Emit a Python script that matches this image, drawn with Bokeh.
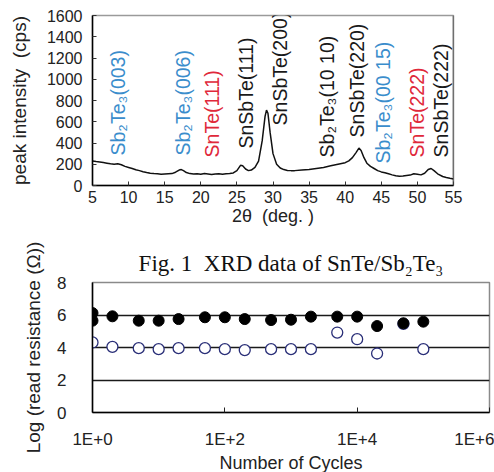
import math
from bokeh.plotting import figure
from bokeh.layouts import column
from bokeh.models import ColumnDataSource, FixedTicker, Span, Title
from bokeh.core.properties import value
from bokeh.embed import file_html
from bokeh.resources import INLINE

# ---------------- XRD data ----------------
two_theta = [5.0, 5.5, 6.0, 6.5, 7.0, 7.5, 8.0, 8.5, 9.0, 9.5, 10.0, 10.5, 11.0, 11.5,
             12.0, 12.5, 13.0, 13.5, 14.0, 14.5, 15.0, 15.5, 16.0, 16.5, 17.0, 17.3,
             17.6, 18.0, 18.5, 19.0, 19.5, 20.0, 20.5, 21.0, 21.5, 22.0, 22.5, 23.0,
             23.5, 24.0, 24.5, 25.0, 25.5, 25.8, 26.2, 26.6, 27.0, 27.5, 28.0, 28.5,
             28.9, 29.1, 29.3, 29.6, 30.0, 30.5, 31.0, 31.5, 32.0, 32.5, 33.0, 34.0,
             35.0, 36.0, 37.0, 38.0, 39.0, 40.0, 40.5, 41.0, 41.5, 41.9, 42.2, 42.6,
             43.0, 43.5, 44.0, 44.5, 45.0, 45.5, 46.0, 46.5, 47.0, 47.5, 48.0, 48.5,
             49.0, 49.5, 50.0, 50.5, 51.0, 51.5, 51.9, 52.3, 52.8, 53.5, 54.0, 54.5, 55.0]
intensity = [230, 225, 222, 216, 210, 204, 200, 205, 195, 180, 170, 160, 148, 140,
             130, 122, 115, 112, 110, 106, 108, 110, 112, 125, 145, 150,
             140, 122, 112, 108, 110, 106, 112, 108, 104, 108, 110, 106,
             110, 112, 118, 140, 190, 185, 155, 140, 145, 170, 230, 420,
             650, 710, 680, 500, 300, 200, 165, 150, 142, 140, 140, 145,
             150, 160, 170, 185, 200, 215, 232, 262, 310, 352, 330, 262,
             210, 180, 160, 140, 128, 120, 110, 100, 92, 88, 90, 95,
             98, 110, 106, 100, 115, 150, 160, 140, 110, 85, 75, 68, 62]

peak_labels = ["Sb\u2082Te\u2083(003)", "Sb\u2082Te\u2083(006)", "SnTe(111)", "SnSbTe(111)",
               "SnSbTe(200)", "Sb\u2082Te\u2083(10\u00a010)", "SnSbTe(220)",
               "Sb\u2082Te\u2083(00\u00a015)", "SnTe(222)", "SnSbTe(222)"]
peak_2theta = [8.6, 17.5, 21.6, 26.2, 31.0, 37.5, 41.7, 45.2, 50.0, 53.2]
peak_label_base = [282, 282, 264, 348, 565, 264, 452, 207, 264, 264]
peak_phase = ["Sb2Te3", "Sb2Te3", "SnTe", "SnSbTe", "SnSbTe", "SnSbTe", "SnSbTe",
              "Sb2Te3", "SnTe", "SnSbTe"]

# ---------------- Endurance data ----------------
cycles = [1, 2, 5, 10, 20, 50, 100, 200, 500, 1000, 2000, 5000, 10000, 20000, 50000, 100000]
log_r_high = [6.12, 5.92, 5.65, 5.65, 5.75, 5.86, 5.86, 5.75, 5.69, 5.71, 5.90, 5.90, 5.90,
              5.32, 5.49, 5.59]
log_r_low = [4.31, 4.04, 3.96, 3.90, 3.96, 3.96, 3.90, 3.84, 3.90, 3.90, 3.90, 4.92, 4.51,
             3.63, 5.45, 3.90]
extra_high_cycles = [1]
extra_high_vals = [5.65]

x_tick_vals = [1, 100, 10000, 1000000]
x_tick_text = ["1E+0", "1E+2", "1E+4", "1E+6"]

SANS = "Liberation Sans"
NB = "\u00a0"
phase_color = {"Sb2Te3": "#3a8dcc", "SnTe": "#e0283a", "SnSbTe": "#1a1a1a"}

# ---------------- Top: XRD ----------------
p1 = figure(frame_width=361, frame_height=170, x_range=(5, 55), y_range=(0, 1600),
            output_backend="svg", toolbar_location=None,
            min_border_left=92, min_border_right=33, min_border_top=15, min_border_bottom=47)
p1.background_fill_color = "white"
p1.outline_line_color = "#9a9a9a"
p1.outline_line_width = 1.5
p1.grid.visible = False

p1.line(two_theta, intensity, line_color="#111111", line_width=1.5)

src_lab = ColumnDataSource(dict(x=peak_2theta, y=peak_label_base, t=peak_labels,
                                c=[phase_color[ph] for ph in peak_phase]))
p1.text(x="x", y="y", text="t", source=src_lab, angle=math.pi / 2,
        text_align="left", text_baseline="middle", text_color="c",
        text_font=value(SANS), text_font_size="19.5px")

p1.add_layout(Span(location=55, dimension="height", line_color="#444444", line_width=1.5))

p1.xaxis.ticker = FixedTicker(ticks=list(range(5, 56, 5)))
p1.yaxis.ticker = FixedTicker(ticks=list(range(0, 1601, 200)))
for ax in (p1.xaxis[0], p1.yaxis[0]):
    ax.axis_line_color = "black"
    ax.axis_line_width = 1.5
    ax.major_tick_in = 4
    ax.major_tick_out = 0
    ax.major_tick_line_color = "#333333"
    ax.minor_tick_line_color = None
    ax.major_label_text_font = SANS
    ax.major_label_text_font_size = "16px"
    ax.major_label_text_color = "#222222"
    ax.axis_label_text_font = SANS
    ax.axis_label_text_font_style = "normal"
    ax.axis_label_text_color = "#222222"
p1.xaxis.major_label_standoff = 5
p1.yaxis.major_label_standoff = 10
p1.xaxis.axis_label = "2\u03b8" + NB + NB + "(deg." + NB + ")"
p1.xaxis.axis_label_text_font_size = "18px"
p1.xaxis.axis_label_standoff = 0
p1.yaxis.axis_label = "peak" + NB + "intensity" + NB + NB + "(cps)"
p1.yaxis.axis_label_text_font_size = "19px"
p1.yaxis.axis_label_standoff = 14

# ---------------- Bottom: endurance ----------------
p2 = figure(frame_width=397, frame_height=130, x_axis_type="log", x_range=(1, 1e6),
            y_range=(0, 8), output_backend="svg", toolbar_location=None,
            min_border_left=73, min_border_right=24, min_border_top=50, min_border_bottom=60)
p2.outline_line_color = "#8a8a8a"
p2.outline_line_width = 1.5
p2.xgrid.visible = False
p2.ygrid.ticker = FixedTicker(ticks=[2, 4, 6])
p2.ygrid.grid_line_color = "#1a1a1a"
p2.ygrid.grid_line_width = 1.3

p2.scatter(cycles, log_r_low, size=11, marker="circle", fill_color="white",
           line_color="#2a2f78", line_width=1.3)
p2.scatter(cycles, log_r_high, size=11, marker="circle", fill_color="black",
           line_color="black")
p2.scatter(extra_high_cycles, extra_high_vals, size=11, marker="circle", fill_color="black",
           line_color="black")

p2.xaxis.ticker = FixedTicker(ticks=x_tick_vals, minor_ticks=[])
p2.xaxis.major_label_overrides = {float(v): t for v, t in zip(x_tick_vals, x_tick_text)}
p2.yaxis.ticker = FixedTicker(ticks=[0, 2, 4, 6, 8])
for ax in (p2.xaxis[0], p2.yaxis[0]):
    ax.axis_line_color = "black"
    ax.axis_line_width = 1.5
    ax.minor_tick_line_color = None
    ax.major_label_text_font = SANS
    ax.major_label_text_font_size = "17px"
    ax.major_label_text_color = "#222222"
    ax.axis_label_text_font = SANS
    ax.axis_label_text_font_style = "normal"
    ax.axis_label_text_color = "#222222"
p2.xaxis.major_tick_in = 5
p2.xaxis.major_tick_out = 0
p2.xaxis.major_tick_line_color = "#222222"
p2.yaxis.major_tick_line_color = None
p2.xaxis.major_label_standoff = 17
p2.yaxis.major_label_standoff = 20
p2.xaxis.axis_label = "Number" + NB + "of" + NB + "Cycles"
p2.xaxis.axis_label_text_font_size = "18px"
p2.xaxis.axis_label_standoff = 1
p2.yaxis.axis_label = "Log" + NB + "(read" + NB + "resistance" + NB + "(\u03a9))"
p2.yaxis.axis_label_text_font_size = "19px"
p2.yaxis.axis_label_standoff = 10

p2.add_layout(Title(text="Fig." + NB + "1" + NB + NB + "XRD" + NB + "data" + NB + "of" + NB
                    + "SnTe/Sb\u2082Te\u2083", align="center",
                    text_font="Liberation Serif", text_font_size="23px",
                    text_font_style="normal", text_color="#111111",
                    standoff=14, offset=6), "above")

layout = column(p1, p2, spacing=0)
open("out.html", "w").write(file_html(layout, INLINE))
